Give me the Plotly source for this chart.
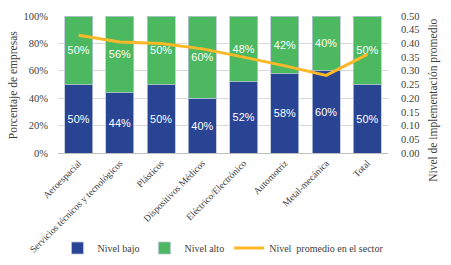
import plotly.graph_objects as go

categories = ["Aeroespacial", "Servicios técnicos y tecnológicos", "Plásticos",
              "Dispositivos Médicos", "Eléctrico/Electrónico", "Automotriz",
              "Metal-mecánica", "Total"]
nivel_bajo = [50, 44, 50, 40, 52, 58, 60, 50]
nivel_alto = [50, 56, 50, 60, 48, 42, 40, 50]
nivel_promedio = [0.43, 0.405, 0.40, 0.38, 0.35, 0.318, 0.283, 0.36]

left_ticks = [0, 20, 40, 60, 80, 100]
left_labels = ["0%", "20%", "40%", "60%", "80%", "100%"]
right_ticks = [0, 0.05, 0.1, 0.15, 0.2, 0.25, 0.3, 0.35, 0.4, 0.45, 0.5]
right_labels = [f"{v:.2f}" for v in right_ticks]

BLUE = "#2A4494"
GREEN = "#4CB860"
ORANGE = "#FDB827"
serif = "Liberation Serif"
TXT = "#404040"

fig = go.Figure()
for vals, name, col in [(nivel_bajo, "Nivel bajo", BLUE), (nivel_alto, "Nivel alto", GREEN)]:
    fig.add_trace(go.Bar(
        x=categories, y=vals, name=name, marker_color=col,
        marker_line=dict(color="#B8C4D8", width=0.8),
        text=[f"{v}%" for v in vals], textposition="inside", textangle=0,
        insidetextanchor="middle",
        textfont=dict(color="white", size=11, family="Liberation Sans"),
        width=0.68,
    ))
fig.add_trace(go.Scatter(
    x=categories, y=nivel_promedio, name="Nivel  promedio en el sector",
    mode="lines", line=dict(color=ORANGE, width=3), yaxis="y2",
))

fig.update_layout(
    width=451, height=265,
    barmode="stack",
    hovermode=False,
    margin=dict(l=58, r=63, t=16, b=112, autoexpand=False),
    paper_bgcolor="white", plot_bgcolor="white",
    font=dict(family=serif, size=10, color=TXT),
    uniformtext=dict(minsize=8, mode="show"),
    xaxis=dict(tickangle=-45, tickfont=dict(size=9.5, family=serif, color=TXT),
               showline=True, linecolor="#BFBFBF", ticks="", automargin=False),
    yaxis=dict(range=[0, 100], tickvals=left_ticks, ticktext=left_labels,
               showgrid=True, gridcolor="#D9D9D9", gridwidth=1, zeroline=False,
               ticklabelstandoff=9,
               tickfont=dict(size=10.5, family=serif, color=TXT), automargin=False),
    yaxis2=dict(range=[0, 0.5], tickvals=right_ticks, ticktext=right_labels,
                overlaying="y", side="right", showgrid=False, zeroline=False,
                ticklabelstandoff=12,
                tickfont=dict(size=10.5, family=serif, color=TXT), automargin=False),
    legend=dict(orientation="h", x=0.5, xanchor="center", y=0.064, yanchor="middle",
                yref="container",
                font=dict(size=10, family="Liberation Sans Narrow", color=TXT),
                traceorder="normal", itemwidth=30),
    annotations=[
        dict(text="Porcentaje de empresas", xref="paper", yref="paper",
             x=-0.136, y=0.496, xanchor="center", yanchor="middle", textangle=-90,
             showarrow=False, font=dict(size=11.5, family=serif, color=TXT)),
        dict(text="Nivel de implementación promedio", xref="paper", yref="paper",
             x=1.139, y=0.387, xanchor="center", yanchor="middle", textangle=-90,
             showarrow=False, font=dict(size=11.5, family=serif, color=TXT)),
    ],
)

# Remove the default page margin so the figure sits exactly in the window.
fig.write_html("out.html",
               config={"displayModeBar": False},
               post_script="document.body.style.margin='0';document.body.style.overflow='hidden';")
